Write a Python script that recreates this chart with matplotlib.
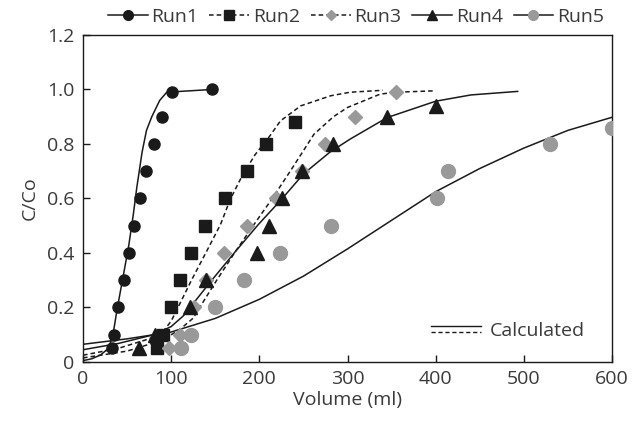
import matplotlib
matplotlib.use('Agg')
import matplotlib.pyplot as plt
from matplotlib.lines import Line2D
from matplotlib.legend_handler import HandlerBase
from matplotlib.ticker import FuncFormatter

plt.rcParams['font.family'] = ['Open Sans', 'DejaVu Sans']

# measured points
run1_x = [33, 35, 40, 46, 52, 58, 65, 72, 81, 90, 101, 146]
run1_y = [0.05, 0.1, 0.2, 0.3, 0.4, 0.5, 0.6, 0.7, 0.8, 0.9, 0.99, 1.0]
run2_x = [84, 91, 100, 110, 122, 138, 161, 186, 208, 241]
run2_y = [0.05, 0.1, 0.2, 0.3, 0.4, 0.5, 0.6, 0.7, 0.8, 0.88]
run3_x = [98, 110, 126, 140, 160, 186, 219, 248, 275, 309, 355]
run3_y = [0.05, 0.1, 0.2, 0.3, 0.4, 0.5, 0.6, 0.7, 0.8, 0.9, 0.99]
run4_x = [64, 82, 121, 140, 197, 211, 226, 248, 284, 345, 400]
run4_y = [0.05, 0.1, 0.2, 0.3, 0.4, 0.5, 0.6, 0.7, 0.8, 0.9, 0.94]
run5_x = [111, 123, 150, 183, 223, 281, 401, 414, 530, 600]
run5_y = [0.05, 0.1, 0.2, 0.3, 0.4, 0.5, 0.6, 0.7, 0.8, 0.86]

# calculated curves
calc1_x = [0, 10, 20, 27, 31, 34.5, 38.5, 43, 47, 52, 57, 61, 67, 72, 78, 87, 95, 146]
calc1_y = [0.005, 0.012, 0.026, 0.045, 0.07, 0.11, 0.19, 0.27, 0.34, 0.43, 0.54, 0.64, 0.77, 0.85, 0.90, 0.96, 0.99, 1.0]
calc2_x = [0, 40, 70, 88, 100, 112, 123, 140, 156, 167, 180, 195, 212, 224, 247, 281, 303, 340]
calc2_y = [0.025, 0.05, 0.08, 0.1, 0.15, 0.228, 0.30, 0.405, 0.505, 0.597, 0.68, 0.76, 0.83, 0.885, 0.94, 0.977, 0.99, 0.997]
calc3_x = [0, 50, 90, 110, 125, 140, 152, 173, 194, 214, 235, 262, 284, 300, 337, 355, 398]
calc3_y = [0.015, 0.04, 0.08, 0.12, 0.161, 0.24, 0.302, 0.406, 0.505, 0.597, 0.70, 0.836, 0.90, 0.934, 0.983, 0.99, 0.995]
calc4_x = [0, 40, 80, 100, 114, 130, 146, 173, 199, 226, 250, 280, 303, 345, 400, 440, 493]
calc4_y = [0.045, 0.068, 0.1, 0.13, 0.17, 0.235, 0.30, 0.406, 0.505, 0.60, 0.69, 0.77, 0.818, 0.897, 0.957, 0.98, 0.993]
calc5_x = [0, 50, 100, 150, 200, 250, 300, 350, 400, 450, 500, 550, 600]
calc5_y = [0.065, 0.085, 0.11, 0.16, 0.23, 0.315, 0.415, 0.52, 0.625, 0.71, 0.785, 0.85, 0.898]

run_labels = ['Run1', 'Run2', 'Run3', 'Run4', 'Run5']

BLACK = '#1a1a1a'
GRAY = '#999999'
TEXT = '#3a3a3a'
DASH = (0, (3, 2))


class HandlerCalc(HandlerBase):
    # solid line stacked over a dashed one
    def create_artists(self, legend, orig_handle, xdescent, ydescent,
                       width, height, fontsize, trans):
        y_top = height * 0.72 - ydescent
        y_bot = height * 0.28 - ydescent
        solid = Line2D([-xdescent, width - xdescent], [y_top, y_top],
                       color=BLACK, lw=1.0)
        dashed = Line2D([-xdescent, width - xdescent], [y_bot, y_bot],
                        color=BLACK, lw=1.0, linestyle=DASH)
        solid.set_transform(trans)
        dashed.set_transform(trans)
        return [solid, dashed]


fig = plt.figure(figsize=(6.41, 4.23), dpi=100)
ax = fig.add_axes([0.1295, 0.1442, 0.8253, 0.7731])

# calculated curves
ax.plot(calc1_x, calc1_y, color=BLACK, lw=1.1)
ax.plot(calc2_x, calc2_y, color=BLACK, lw=1.1, linestyle=DASH)
ax.plot(calc3_x, calc3_y, color=BLACK, lw=1.1, linestyle=DASH)
ax.plot(calc4_x, calc4_y, color=BLACK, lw=1.1)
ax.plot(calc5_x, calc5_y, color=BLACK, lw=1.1)

# measured points
ax.plot(run1_x, run1_y, 'o', color=BLACK, ms=8, zorder=3)
ax.plot(run2_x, run2_y, 's', color=BLACK, ms=8, zorder=3)
ax.plot(run3_x, run3_y, 'D', color=GRAY, ms=7, zorder=3)
ax.plot(run4_x, run4_y, '^', color=BLACK, ms=9.5, zorder=3)
ax.plot(run5_x, run5_y, 'o', color=GRAY, ms=10, zorder=3)

ax.set_xlim(0, 600)
ax.set_ylim(0, 1.2)
ax.set_xticks([0, 100, 200, 300, 400, 500, 600])
ax.set_yticks([0, 0.2, 0.4, 0.6, 0.8, 1.0, 1.2])
ax.yaxis.set_major_formatter(FuncFormatter(lambda v, p: '0' if v == 0 else f'{v:.1f}'))
ax.tick_params(direction='in', length=5, width=1, colors=BLACK,
               labelcolor=TEXT, labelsize=14, pad=6)
for s in ax.spines.values():
    s.set_color(BLACK)
    s.set_linewidth(1.0)

ax.set_xlabel('Volume (ml)', fontsize=14, color=TEXT, labelpad=2)
ax.set_ylabel('C/Co', fontsize=14, color=TEXT, labelpad=6)

# top legend with line + marker proxies
handles = [
    Line2D([], [], color=BLACK, lw=1.1, marker='o', ms=7, mfc=BLACK, mec=BLACK),
    Line2D([], [], color=BLACK, lw=1.1, linestyle=DASH, marker='s', ms=6.5, mfc=BLACK, mec=BLACK),
    Line2D([], [], color=BLACK, lw=1.1, linestyle=DASH, marker='D', ms=5, mfc=GRAY, mec=GRAY),
    Line2D([], [], color=BLACK, lw=1.1, marker='^', ms=7, mfc=BLACK, mec=BLACK),
    Line2D([], [], color=BLACK, lw=1.1, marker='o', ms=7, mfc=GRAY, mec=GRAY),
]
leg = ax.legend(handles, run_labels, loc='center', bbox_to_anchor=(0.516, 1.055),
                ncol=5, frameon=False, fontsize=14, handlelength=2.05,
                handletextpad=0.2, columnspacing=0.55, borderpad=0, borderaxespad=0)
for t in leg.get_texts():
    t.set_color(TEXT)
ax.add_artist(leg)

calc_handle = Line2D([], [])
leg2 = ax.legend([calc_handle], ['Calculated'], loc='center right',
                 bbox_to_anchor=(0.949, 0.095), frameon=False, fontsize=14,
                 handlelength=2.6, handletextpad=0.45, borderpad=0, borderaxespad=0,
                 handler_map={calc_handle: HandlerCalc()})
for t in leg2.get_texts():
    t.set_color(TEXT)

fig.savefig('out.png', dpi=100)
